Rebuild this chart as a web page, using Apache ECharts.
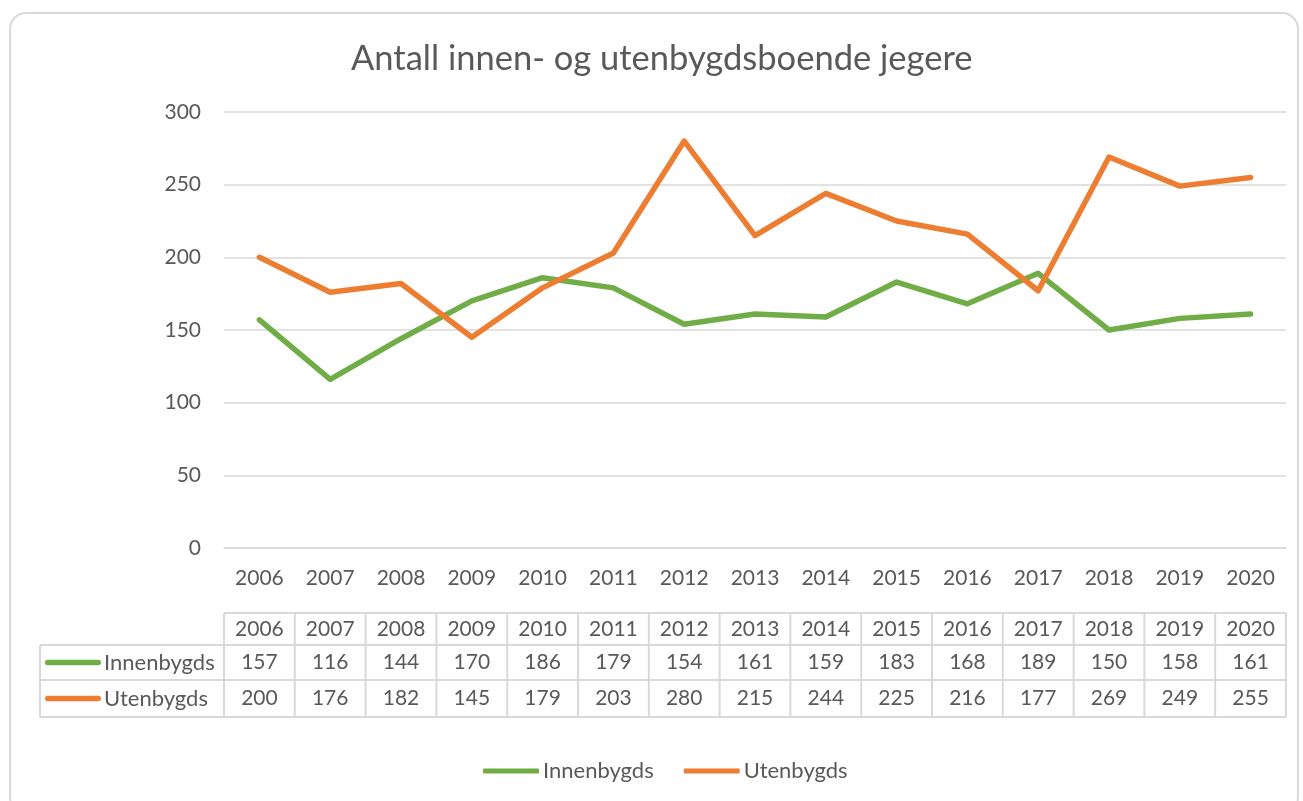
<!DOCTYPE html>
<html>
<head>
<meta charset="utf-8">
<script src="https://cdn.jsdelivr.net/npm/echarts@6/dist/echarts.min.js"></script>
<style>
  html, body { margin: 0; padding: 0; background: #fff; }
  #chart { width: 1303px; height: 801px; }
</style>
</head>
<body>
<div id="chart"></div>
<script>
// data
const years = ["2006", "2007", "2008", "2009", "2010", "2011", "2012", "2013", "2014", "2015", "2016", "2017", "2018", "2019", "2020"];
const innenbygds = [157, 116, 144, 170, 186, 179, 154, 161, 159, 183, 168, 189, 150, 158, 161];
const utenbygds = [200, 176, 182, 145, 179, 203, 280, 215, 244, 225, 216, 177, 269, 249, 255];
const yTicks = [0, 50, 100, 150, 200, 250, 300];

const FONT = "Lato";
const TXT = "#595959";
const GRID = "#D9D9D9";
const GREEN = "#70AD47";
const ORANGE = "#ED7D31";

const el = document.getElementById("chart");
const chart = echarts.init(el, null, { renderer: "canvas" });

const plotLeft = 224, plotRight = 1303 - 1286, plotTop = 112, plotBottom = 801 - 548;

chart.setOption({
  animation: false,
  textStyle: { fontFamily: FONT },
  title: {
    text: "Antall innen- og utenbygdsboende jegere",
    left: 346,
    top: 36,
    textStyle: { fontFamily: FONT, fontSize: 34.5, fontWeight: "normal", color: TXT }
  },
  legend: {
    bottom: 14,
    left: 478,
    icon: "roundRect",
    itemWidth: 56,
    itemHeight: 5,
    itemGap: 30,
    textStyle: { fontFamily: FONT, fontSize: 22, color: TXT, padding: [0, 0, 0, -1] },
    data: ["Innenbygds", "Utenbygds"]
  },
  grid: { left: plotLeft, right: plotRight, top: plotTop, bottom: plotBottom },
  xAxis: {
    type: "category",
    data: years,
    boundaryGap: true,
    axisLine: { lineStyle: { color: GRID, width: 1.5 } },
    axisTick: { show: false },
    axisLabel: { color: TXT, fontFamily: FONT, fontSize: 21, margin: 20 }
  },
  yAxis: {
    type: "value",
    min: yTicks[0],
    max: yTicks[yTicks.length - 1],
    interval: yTicks[1] - yTicks[0],
    axisLine: { show: false },
    axisTick: { show: false },
    splitLine: { lineStyle: { color: GRID, width: 1.5 } },
    axisLabel: { color: TXT, fontFamily: FONT, fontSize: 21, margin: 23 }
  },
  series: [
    {
      name: "Innenbygds",
      type: "line",
      data: innenbygds,
      symbol: "none",
      lineStyle: { color: GREEN, width: 5.5, cap: "round", join: "round" },
      itemStyle: { color: GREEN }
    },
    {
      name: "Utenbygds",
      type: "line",
      data: utenbygds,
      symbol: "none",
      lineStyle: { color: ORANGE, width: 5.5, cap: "round", join: "round" },
      itemStyle: { color: ORANGE }
    }
  ]
});

// data table under the plot, columns aligned with the category axis
const rowY = [613, 645, 680, 717];
const tblLeft = 40;
const colW = chart.convertToPixel({ xAxisIndex: 0 }, 1) - chart.convertToPixel({ xAxisIndex: 0 }, 0);
const x0 = chart.convertToPixel({ xAxisIndex: 0 }, 0) - colW / 2;
const x1 = x0 + colW * years.length;
const lineStyle = { stroke: GRID, lineWidth: 2 };
const g = [];

// outer chart border
g.push({
  type: "rect",
  shape: { x: 10, y: 13, width: 1288, height: 800, r: 16 },
  style: { fill: null, stroke: GRID, lineWidth: 2 },
  silent: true
});

// horizontal rules
g.push({ type: "line", shape: { x1: x0, y1: rowY[0], x2: x1, y2: rowY[0] }, style: lineStyle });
for (let r = 1; r < rowY.length; r++) {
  g.push({ type: "line", shape: { x1: tblLeft, y1: rowY[r], x2: x1, y2: rowY[r] }, style: lineStyle });
}
// vertical rules
g.push({ type: "line", shape: { x1: tblLeft, y1: rowY[1], x2: tblLeft, y2: rowY[3] }, style: lineStyle });
for (let i = 0; i <= years.length; i++) {
  const x = x0 + colW * i;
  g.push({ type: "line", shape: { x1: x, y1: rowY[0], x2: x, y2: rowY[3] }, style: lineStyle });
}

const cellText = (x, y, s, align, size) => ({
  type: "text",
  x: x, y: y,
  style: { text: s, fill: TXT, font: (size || 21) + "px " + FONT, align: align || "center", verticalAlign: "middle" }
});

const rows = [
  { cells: years, name: null },
  { cells: innenbygds, name: "Innenbygds", color: GREEN },
  { cells: utenbygds, name: "Utenbygds", color: ORANGE }
];
rows.forEach((row, r) => {
  const cy = (rowY[r] + rowY[r + 1]) / 2;
  row.cells.forEach((v, i) => {
    const cx = chart.convertToPixel({ xAxisIndex: 0 }, i);
    g.push(cellText(cx, cy, String(v)));
  });
  if (row.name) {
    g.push({
      type: "rect",
      shape: { x: 45, y: cy - 2.75, width: 56, height: 5.5, r: 2.75 },
      style: { fill: row.color }
    });
    g.push(cellText(104, cy, row.name, "left", 22));
  }
});

chart.setOption({ graphic: g });
</script>
</body>
</html>
